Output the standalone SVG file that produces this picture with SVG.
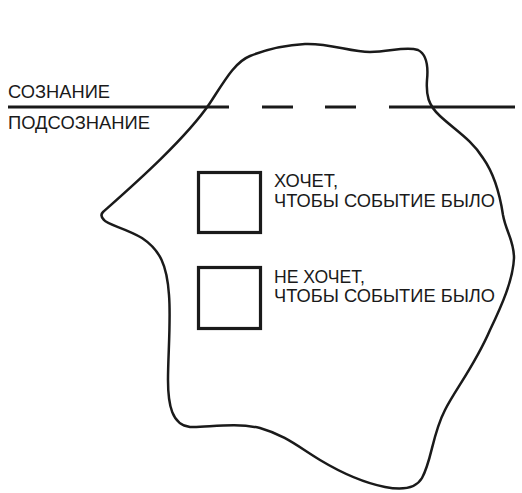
<svg xmlns="http://www.w3.org/2000/svg" width="522" height="493" viewBox="0 0 522 493">
<style>
text{font-family:"Liberation Sans",Arial,sans-serif;font-size:18px;fill:#1a1a1a}
.box{fill:none;stroke:#1a1a1a;stroke-width:3.2}
.ln{stroke:#1a1a1a;stroke-width:3;fill:none}
</style>
<rect width="522" height="493" fill="#fff"/>
<g id="blob">
<path class="ln" style="stroke-width:2.5" d="M 103,212 C 130,188 185,140 210,103 C 225,80 235,62 250,56 C 265,50 285,45 305,44 C 330,43 350,52 370,52 C 390,52 405,46 418,50 C 428,55 428,70 427,80 C 426,95 428,105 440,116 C 455,130 472,140 483,158 C 495,175 500,195 503,215 C 506,232 514,240 514,258 C 513,280 502,305 490,330 C 475,365 455,390 445,410 C 432,435 432,460 422,478 C 415,490 400,490 385,487 C 365,483 340,472 320,460 C 300,448 285,435 260,428 C 235,422 205,428 190,427 C 172,425 168,405 168,380 C 168,355 171,320 169,295 C 167,265 160,250 142,238 C 125,228 108,225 104,220 C 101,217 101,214 103,212 Z"/>
</g>
<g id="waterline">
<path class="ln" d="M 8,107 H 229 M 262,107 H 293 M 325,107 H 356 M 389,107 H 515"/>
<text x="8" y="98" textLength="102" lengthAdjust="spacingAndGlyphs">СОЗНАНИЕ</text>
<text x="8" y="129" textLength="142" lengthAdjust="spacingAndGlyphs">ПОДСОЗНАНИЕ</text>
</g>
<g id="wants">
<rect class="box" x="198.5" y="172.5" width="62" height="60"/>
<text x="274" y="187" textLength="64" lengthAdjust="spacingAndGlyphs">ХОЧЕТ,</text>
<text x="274" y="206.5" textLength="221" lengthAdjust="spacingAndGlyphs">ЧТОБЫ СОБЫТИЕ БЫЛО</text>
</g>
<g id="not-wants">
<rect class="box" x="198.5" y="267.5" width="62" height="61"/>
<text x="274" y="283" textLength="91" lengthAdjust="spacingAndGlyphs">НЕ ХОЧЕТ,</text>
<text x="274" y="301.5" textLength="221" lengthAdjust="spacingAndGlyphs">ЧТОБЫ СОБЫТИЕ БЫЛО</text>
</g>
<g id="connectors"/>
</svg>
